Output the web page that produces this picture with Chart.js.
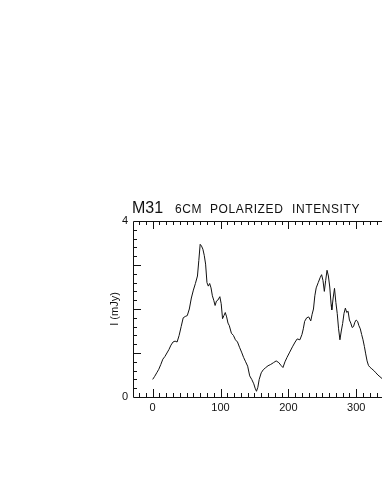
<!DOCTYPE html>
<html>
<head>
<meta charset="utf-8">
<script src="https://cdn.jsdelivr.net/npm/chart.js@4/dist/chart.umd.min.js"></script>
<style>
  html, body { margin: 0; padding: 0; background: #fff; }
  #wrap { width: 382px; height: 494px; }
</style>
</head>
<body>
<div id="wrap"><canvas id="plot" width="382" height="494"></canvas></div>
<script>
// position along the slice (x) and polarized intensity in mJy (y)
const positions = [0, 3, 6, 9, 12, 15, 18, 21, 24, 27, 30, 33, 36, 39, 42, 45, 48, 51, 54, 57,
    60, 63, 66, 68, 70, 72, 74, 76, 78, 80, 82, 84, 86, 88, 90, 92, 94, 96, 99, 101,
    103, 105, 107, 109, 111, 113, 116, 119, 122, 125, 128, 131, 134, 137, 140, 143, 146, 149, 151, 153,
    155, 157, 160, 163, 166, 170, 174, 178, 182, 186, 189, 192, 195, 198, 202, 206, 210, 213, 217, 220,
    222, 224, 227, 230, 233, 235, 237, 239, 241, 244, 247, 249, 251, 253, 255, 257, 259, 261, 263, 264,
    266, 268, 270, 272, 274, 276, 278, 280, 282, 284, 286, 288, 290, 292, 294, 296, 298, 300, 302, 304,
    306, 308, 310, 312, 314, 316, 318, 320, 323, 326, 329, 332, 335, 338];
const intensity = [0.40, 0.47, 0.55, 0.63, 0.74, 0.86, 0.92, 1.00, 1.08, 1.18, 1.25, 1.27, 1.25, 1.40, 1.60, 1.80, 1.83, 1.85, 2.00, 2.25,
    2.43, 2.58, 2.75, 3.10, 3.47, 3.43, 3.36, 3.22, 3.02, 2.60, 2.52, 2.58, 2.48, 2.30, 2.20, 2.08, 2.18, 2.20, 2.28, 2.12,
    1.78, 1.85, 1.92, 1.82, 1.68, 1.62, 1.45, 1.40, 1.30, 1.25, 1.13, 1.02, 0.90, 0.80, 0.70, 0.48, 0.40, 0.30, 0.20, 0.13,
    0.22, 0.40, 0.55, 0.62, 0.66, 0.71, 0.74, 0.78, 0.82, 0.78, 0.72, 0.67, 0.80, 0.90, 1.02, 1.14, 1.25, 1.32, 1.30, 1.42,
    1.55, 1.72, 1.80, 1.82, 1.73, 1.88, 2.00, 2.30, 2.48, 2.60, 2.72, 2.78, 2.65, 2.40, 2.65, 2.88, 2.75, 2.50, 2.10, 1.98,
    2.25, 2.47, 2.15, 1.90, 1.55, 1.30, 1.50, 1.67, 1.90, 2.02, 1.92, 1.95, 1.75, 1.68, 1.58, 1.60, 1.70, 1.75, 1.72, 1.62,
    1.55, 1.42, 1.30, 1.15, 0.98, 0.82, 0.72, 0.68, 0.64, 0.60, 0.55, 0.50, 0.46, 0.42];
const xTickLabels = [0, 100, 200, 300];
const yTickLabels = [0, 4];

const ink = '#111';
const font = '"Liberation Sans", Arial, sans-serif';

// frame, inward ticks and the IDL-style title
const framePlugin = {
    id: 'frame',
    afterDraw(chart) {
        const ctx = chart.ctx;
        const a = chart.chartArea;
        const xs = chart.scales.x, ys = chart.scales.y;
        ctx.save();
        ctx.strokeStyle = ink;
        ctx.lineWidth = 1;
        ctx.beginPath();
        ctx.moveTo(a.right, a.top + 0.5);
        ctx.lineTo(a.left + 0.5, a.top + 0.5);
        ctx.lineTo(a.left + 0.5, a.bottom + 0.5);
        ctx.lineTo(a.right, a.bottom + 0.5);
        // x ticks every 10, long at every 100
        for (let v = -20; v <= xs.max; v += 10) {
            const px = Math.round(xs.getPixelForValue(v)) + 0.5;
            const len = (v % 100 === 0) ? 8 : 4;
            ctx.moveTo(px, a.bottom);
            ctx.lineTo(px, a.bottom - len);
            ctx.moveTo(px, a.top);
            ctx.lineTo(px, a.top + len);
        }
        // y ticks every 0.2, long at every 1
        for (let i = 1; i < 20; i++) {
            const v = i * 0.2;
            const py = Math.round(ys.getPixelForValue(v)) + 0.5;
            const len = (i % 5 === 0) ? 8 : 4;
            ctx.moveTo(a.left, py);
            ctx.lineTo(a.left + len, py);
        }
        ctx.stroke();

        ctx.fillStyle = ink;
        ctx.textBaseline = 'alphabetic';
        ctx.font = '16px ' + font;
        ctx.fillText('M31', 132, 213);
        ctx.font = '12px ' + font;
        if ('letterSpacing' in ctx) ctx.letterSpacing = '0.6px';
        ctx.fillText('6CM', 175, 213);
        ctx.fillText('POLARIZED', 210, 213);
        ctx.fillText('INTENSITY', 292, 213);
        if ('letterSpacing' in ctx) ctx.letterSpacing = '0px';

        ctx.font = '11px ' + font;
        ctx.translate(118, 309);
        ctx.rotate(-Math.PI / 2);
        ctx.textAlign = 'center';
        ctx.fillText('I (mJy)', 0, 0);
        ctx.restore();
    }
};

function drawPlot() {
    const ctx = document.getElementById('plot');

    new Chart(ctx, {
        type: 'line',
        data: {
            datasets: [{
                data: positions.map((p, i) => ({ x: p, y: intensity[i] })),
                borderColor: ink,
                borderWidth: 1,
                pointRadius: 0,
                tension: 0,
                fill: false
            }]
        },
        options: {
            responsive: false,
            animation: false,
            devicePixelRatio: 1,
            layout: { padding: { left: 0, top: 221, right: 0, bottom: 67 } },
            plugins: { legend: { display: false }, tooltip: { enabled: false } },
            scales: {
                x: {
                    type: 'linear',
                    min: -29,
                    max: 338,
                    afterFit: s => { s.height = 30; },
                    afterBuildTicks: s => { s.ticks = xTickLabels.map(v => ({ value: v })); },
                    grid: { display: false, drawTicks: false },
                    border: { display: false },
                    ticks: { color: ink, font: { family: font, size: 11 }, padding: 4, maxRotation: 0 }
                },
                y: {
                    min: 0,
                    max: 4,
                    afterFit: s => { s.width = 133; },
                    afterBuildTicks: s => { s.ticks = yTickLabels.map(v => ({ value: v })); },
                    grid: { display: false, drawTicks: false },
                    border: { display: false },
                    ticks: { color: ink, font: { family: font, size: 11 }, padding: 5 }
                }
            }
        },
        plugins: [framePlugin]
    });

    console.log("Finished setting up graph")
}
drawPlot();
</script>
</body>
</html>
